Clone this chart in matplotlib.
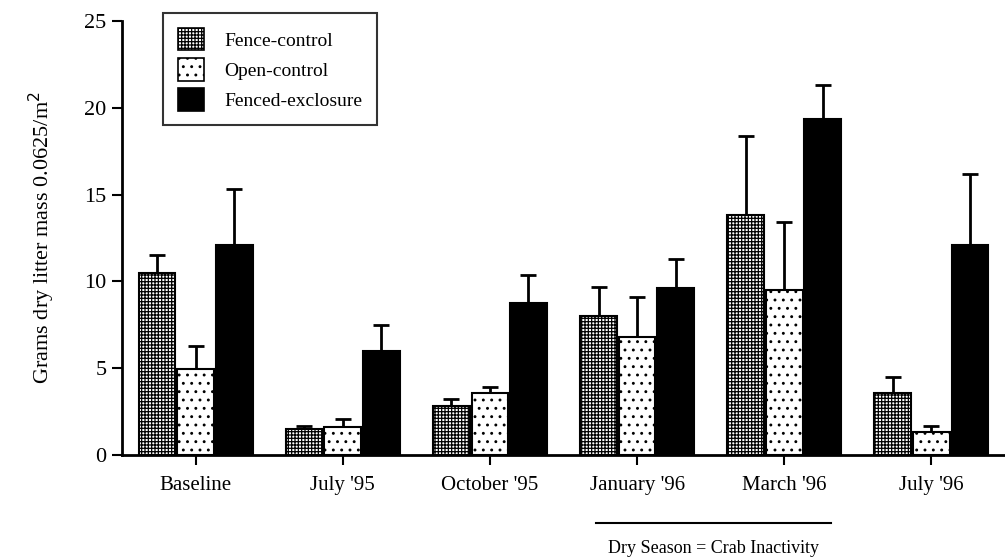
import numpy as np
import matplotlib
matplotlib.use('Agg')
from matplotlib import pyplot as plt
from matplotlib.patches import Patch

plt.rcParams['font.family'] = ['Liberation Serif', 'DejaVu Serif']
plt.rcParams['hatch.linewidth'] = 0.9

categories = ['Baseline', "July '95", "October '95", "January '96", "March '96", "July '96"]
series = ['Fence-control', 'Open-control', 'Fenced-exclosure']

fence_control = [10.5, 1.5, 2.8, 8.0, 13.8, 3.6]
fence_control_err = [1.0, 0.2, 0.4, 1.7, 4.6, 0.9]
open_control = [4.95, 1.6, 3.6, 6.8, 9.5, 1.3]
open_control_err = [1.35, 0.5, 0.3, 2.3, 3.9, 0.4]
fenced_exclosure = [12.1, 6.0, 8.75, 9.6, 19.35, 12.1]
fenced_exclosure_err = [3.2, 1.5, 1.65, 1.7, 1.95, 4.1]

ylabel = 'Grams dry litter mass 0.0625/m$^2$'
note = 'Dry Season = Crab Inactivity'

fig = plt.figure(figsize=(10.05, 5.57), dpi=100)
ax = fig.add_axes([0.1214, 0.1831, 0.8786, 0.779])

x = np.arange(len(categories))
w = 0.25
step = 0.262
styles = [dict(facecolor='white', hatch='+++++'),
          dict(facecolor='white', hatch='..'),
          dict(facecolor='black', hatch=None)]
vals = [fence_control, open_control, fenced_exclosure]
errs = [fence_control_err, open_control_err, fenced_exclosure_err]

for i in range(3):
    pos = x + (i - 1) * step
    ax.bar(pos, vals[i], w, edgecolor='black', linewidth=1.5, zorder=2, **styles[i])
    ax.errorbar(pos, vals[i], yerr=[np.zeros(len(categories)), errs[i]], fmt='none',
                ecolor='black', elinewidth=2, capsize=6, capthick=2, zorder=1)

ax.set_xlim(-0.5, 5.5)
ax.set_ylim(0, 25)
ax.set_yticks([0, 5, 10, 15, 20, 25])
ax.set_xticks(x)
ax.set_xticklabels(categories)
ax.tick_params(axis='both', direction='out', length=7, width=1.5)
ax.tick_params(axis='x', pad=8, labelsize=15)
ax.tick_params(axis='y', pad=4, labelsize=16)
ax.spines['top'].set_visible(False)
ax.spines['right'].set_visible(False)
ax.spines['left'].set_linewidth(2)
ax.spines['bottom'].set_linewidth(2)
ax.set_ylabel(ylabel, fontsize=16, labelpad=20)

handles = [Patch(edgecolor='black', linewidth=1.2, **styles[i]) for i in range(3)]
leg = ax.legend(handles, series, loc='upper left', bbox_to_anchor=(0.0464, 1.018),
                borderaxespad=0, fontsize=14, frameon=True, fancybox=False,
                edgecolor='black', handlelength=1.35, handleheight=1.4, borderpad=0.75,
                labelspacing=0.4, handletextpad=1.05)
leg.get_frame().set_linewidth(1.5)

# dry season bracket below the axis
tr = ax.get_xaxis_transform()
ax.plot([2.72, 4.32], [-0.157, -0.157], color='black', lw=1.5, transform=tr, clip_on=False)
ax.text(3.52, -0.215, note, transform=tr, ha='center', va='center', fontsize=13)

fig.savefig('out.png', dpi=100)
